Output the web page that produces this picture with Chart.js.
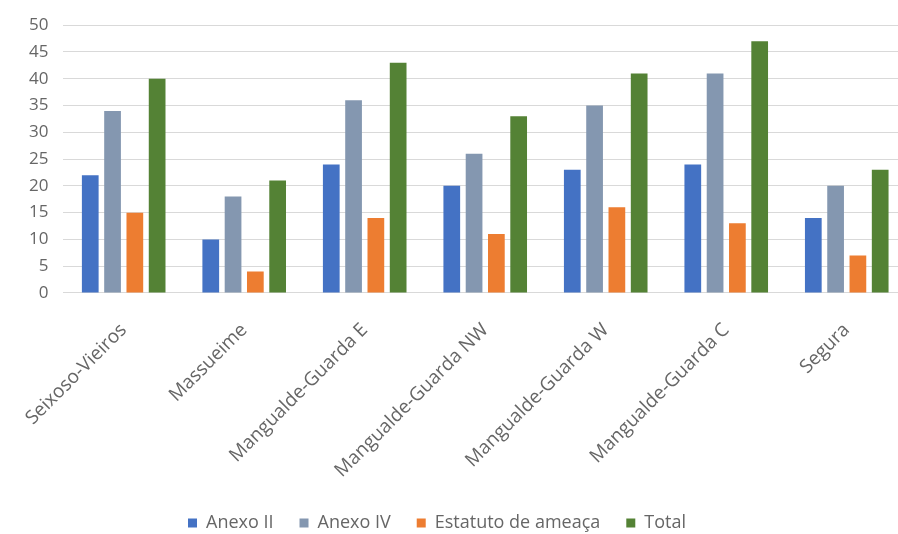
<!DOCTYPE html>
<html>
<head>
<meta charset="utf-8">
<script src="https://cdn.jsdelivr.net/npm/chart.js@4/dist/chart.umd.min.js"></script>
<style>
  html, body { margin: 0; padding: 0; background: #fff; }
  #wrap { width: 898px; height: 534px; position: relative; }
</style>
</head>
<body>
<div id="wrap"><canvas id="grafico"></canvas></div>
<script>
// Locais (categorias)
const locais = ['Seixoso-Vieiros', 'Massueime', 'Mangualde-Guarda E', 'Mangualde-Guarda NW',
  'Mangualde-Guarda W', 'Mangualde-Guarda C', 'Segura'];

// Valores de cada série
const anexoII = [22, 10, 24, 20, 23, 24, 14];
const anexoIV = [34, 18, 36, 26, 35, 41, 20];
const estatutoAmeaca = [15, 4, 14, 11, 16, 13, 7];
const total = [40, 21, 43, 33, 41, 47, 23];

const yTicks = [0, 5, 10, 15, 20, 25, 30, 35, 40, 45, 50];

const fonte = "'Open Sans', 'Liberation Sans', sans-serif";
const cinza = '#666666';

// o original está cortado à direita (a área do gráfico passa da borda)
// e a legenda não está centrada
const ajustarLayout = {
  id: 'ajustarLayout',
  afterLayout(chart) {
    const x = chart.scales.x;
    x.right = chart.width + 9;
    x.width = x.right - x.left;
    x.configure();
    chart.chartArea.right = x.right;
    chart.chartArea.width = x.width;
    chart.scales.y.configure();

    chart.legend.left -= 19;
    chart.legend.right -= 19;
  }
};

new Chart(document.getElementById('grafico'), {
  type: 'bar',
  data: {
    labels: locais,
    datasets: [
      { label: 'Anexo II', data: anexoII, backgroundColor: '#4472C4' },
      { label: 'Anexo IV', data: anexoIV, backgroundColor: '#8497B0' },
      { label: 'Estatuto de ameaça', data: estatutoAmeaca, backgroundColor: '#ED7D31' },
      { label: 'Total', data: total, backgroundColor: '#548235' }
    ]
  },
  plugins: [ajustarLayout],
  options: {
    responsive: true,
    maintainAspectRatio: false,
    animation: false,
    layout: { padding: { top: 18, right: 0, left: 14, bottom: -8 } },
    datasets: { bar: { categoryPercentage: 0.74, barPercentage: 0.75 } },
    plugins: {
      tooltip: { enabled: false },
      legend: {
        position: 'bottom',
        labels: {
          boxWidth: 9,
          boxHeight: 9,
          padding: 26,
          color: cinza,
          font: { family: fonte, size: 18 }
        }
      }
    },
    scales: {
      x: {
        grid: { display: false },
        border: { display: false },
        afterFit: (scale) => {
          scale.height -= 12;
          scale.paddingRight = 0;
        },
        ticks: {
          color: cinza,
          maxRotation: 45,
          minRotation: 45,
          padding: 18,
          font: { family: fonte, size: 19 }
        }
      },
      y: {
        min: 0,
        max: 50,
        afterBuildTicks: (scale) => { scale.ticks = yTicks.map(v => ({ value: v })); },
        grid: { color: '#d9d9d9', lineWidth: 1, drawTicks: false },
        border: { display: false },
        ticks: {
          color: cinza,
          padding: 15,
          font: { family: fonte, size: 17 }
        }
      }
    }
  }
});
</script>
</body>
</html>
